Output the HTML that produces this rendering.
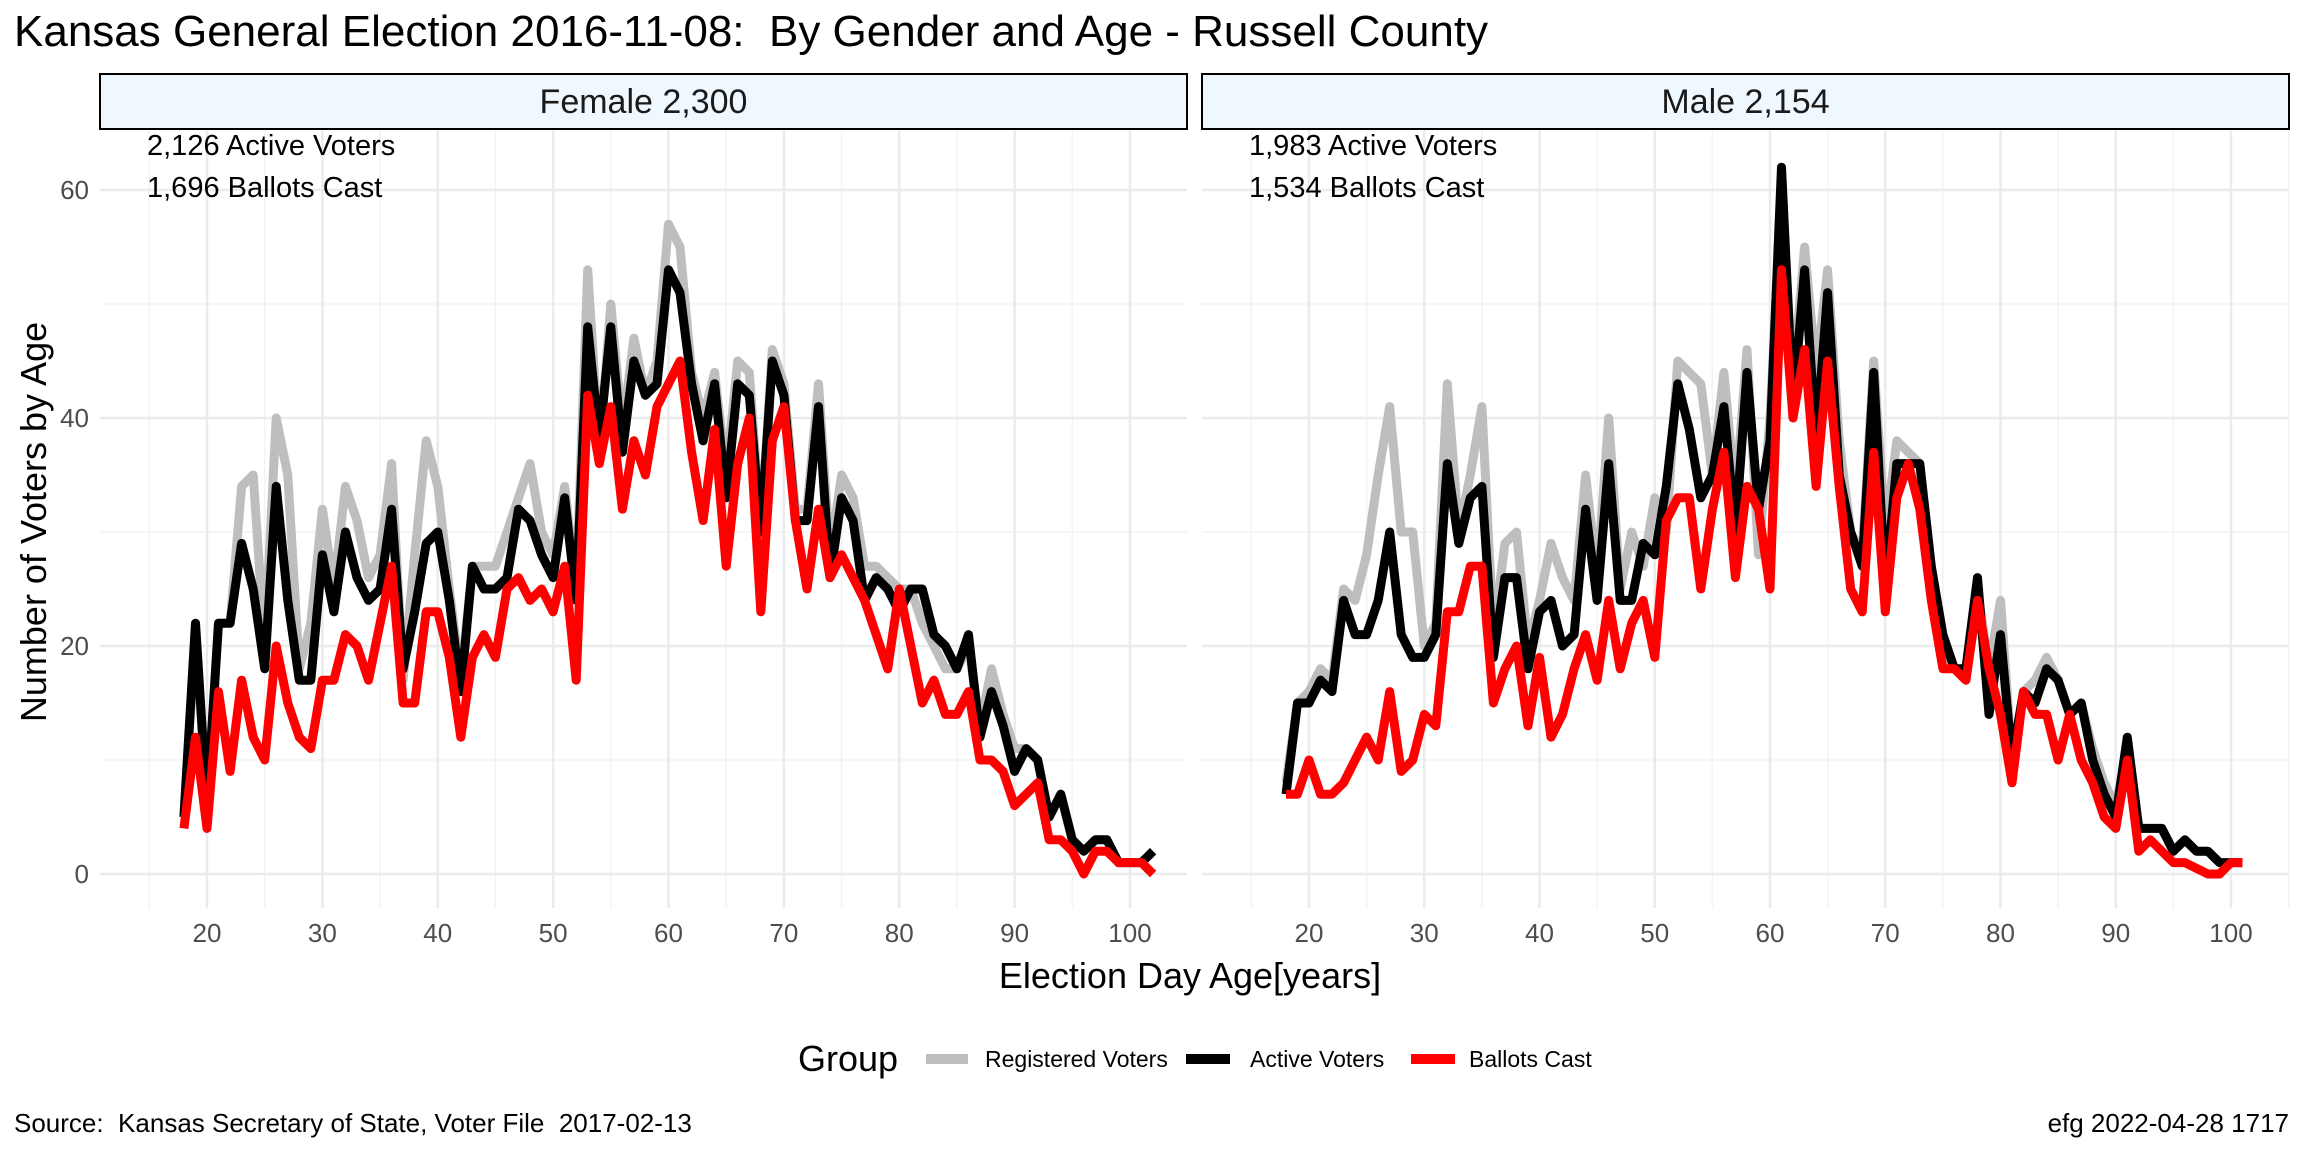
<!DOCTYPE html>
<html><head><meta charset="utf-8">
<style>
html,body{margin:0;padding:0;background:#fff;}
svg{display:block;font-family:"Liberation Sans",Arial,sans-serif;}
text{white-space:pre;}
</style></head>
<body>
<svg id="chart" width="2304" height="1152" viewBox="0 0 2304 1152" xmlns="http://www.w3.org/2000/svg" xml:space="preserve">
<text x="14" y="46" font-size="44" fill="#000">Kansas General Election 2016-11-08:  By Gender and Age - Russell County</text>
<g id="panels"></g>
<text x="1190" y="988" font-size="36" text-anchor="middle" fill="#000">Election Day Age[years]</text>
<text transform="translate(46,522) rotate(-90)" font-size="36" text-anchor="middle" fill="#000">Number of Voters by Age</text>
<g>
<text x="798" y="1071" font-size="36" fill="#000">Group</text>
<line x1="926" y1="1059" x2="968" y2="1059" stroke="#bebebe" stroke-width="10"/>
<text x="985" y="1067" font-size="23" fill="#000">Registered Voters</text>
<line x1="1186" y1="1059" x2="1230" y2="1059" stroke="#000" stroke-width="10"/>
<text x="1250" y="1067" font-size="23" fill="#000">Active Voters</text>
<line x1="1411" y1="1059" x2="1455" y2="1059" stroke="#ff0000" stroke-width="10"/>
<text x="1469" y="1067" font-size="23" fill="#000">Ballots Cast</text>
</g>
<text x="14" y="1132" font-size="26" fill="#000">Source:  Kansas Secretary of State, Voter File  2017-02-13</text>
<text x="2289" y="1132" font-size="26" text-anchor="end" fill="#000">efg 2022-04-28 1717</text>
</svg>
<script>
const femaleAges = [18,19,20,21,22,23,24,25,26,27,28,29,30,31,32,33,34,35,36,37,38,39,40,41,42,43,44,45,46,47,48,49,50,51,52,53,54,55,56,57,58,59,60,61,62,63,64,65,66,67,68,69,70,71,72,73,74,75,76,77,78,79,80,81,82,83,84,85,86,87,88,89,90,91,92,93,94,95,96,97,98,99,100,101,102];
const femaleRegistered = [5,21,6,22,22,34,35,20,40,35,18,22,32,25,34,31,26,28,36,17,28,38,34,25,17,27,27,27,30,33,36,30,28,34,25,53,37,50,39,47,42,45,57,55,44,40,44,35,45,44,30,46,43,32,32,43,28,35,33,27,27,26,25,25,22,20,18,18,20,13,18,14,11,11,10,5,7,3,2,3,3,1,1,1,2];
const femaleActive = [5,22,6,22,22,29,25,18,34,24,17,17,28,23,30,26,24,25,32,18,23,29,30,24,16,27,25,25,26,32,31,28,26,33,24,48,38,48,37,45,42,43,53,51,43,38,43,33,43,42,30,45,42,31,31,41,26,33,31,24,26,25,23,25,25,21,20,18,21,12,16,13,9,11,10,5,7,3,2,3,3,1,1,1,2];
const femaleBallots = [4,12,4,16,9,17,12,10,20,15,12,11,17,17,21,20,17,22,27,15,15,23,23,19,12,19,21,19,25,26,24,25,23,27,17,42,36,41,32,38,35,41,43,45,37,31,39,27,36,40,23,38,41,31,25,32,26,28,26,24,21,18,25,20,15,17,14,14,16,10,10,9,6,7,8,3,3,2,0,2,2,1,1,1,0];
const maleAges = [18,19,20,21,22,23,24,25,26,27,28,29,30,31,32,33,34,35,36,37,38,39,40,41,42,43,44,45,46,47,48,49,50,51,52,53,54,55,56,57,58,59,60,61,62,63,64,65,66,67,68,69,70,71,72,73,74,75,76,77,78,79,80,81,82,83,84,85,86,87,88,89,90,91,92,93,94,95,96,97,98,99,100,101];
const maleRegistered = [8,15,16,18,17,25,24,28,35,41,30,30,20,22,43,30,35,41,21,29,30,20,24,29,26,24,35,26,40,25,30,27,33,30,45,44,43,35,44,33,46,28,40,60,43,55,44,53,38,30,28,45,30,38,37,36,26,20,18,17,25,18,24,10,16,17,19,17,14,15,11,8,6,11,4,4,4,2,3,2,2,1,1,1];
const maleActive = [7,15,15,17,16,24,21,21,24,30,21,19,19,21,36,29,33,34,19,26,26,18,23,24,20,21,32,24,36,24,24,29,28,34,43,39,33,35,41,30,44,32,38,62,41,53,38,51,35,30,27,44,25,36,36,36,27,21,18,18,26,14,21,10,16,15,18,17,14,15,10,7,5,12,4,4,4,2,3,2,2,1,1,1];
const maleBallots = [7,7,10,7,7,8,10,12,10,16,9,10,14,13,23,23,27,27,15,18,20,13,19,12,14,18,21,17,24,18,22,24,19,31,33,33,25,32,37,26,34,32,25,53,40,46,34,45,34,25,23,37,23,33,36,32,24,18,18,17,24,18,14,8,16,14,14,10,14,10,8,5,4,10,2,3,2,1,1,0.5,0,0,1,1];
const yTicks = [0,20,40,60];
const xTicks = [20,30,40,50,60,70,80,90,100];
const panelTitles = ["Female 2,300","Male 2,154"];
const activeNotes = ["2,126 Active Voters","1,983 Active Voters"];
const ballotNotes = ["1,696 Ballots Cast","1,534 Ballots Cast"];

const NS = "http://www.w3.org/2000/svg";
const root = document.getElementById("panels");
function mk(tag, attrs, parent){ const e=document.createElementNS(NS,tag); for(const k in attrs) e.setAttribute(k,attrs[k]); parent.appendChild(e); return e; }
const yScale = v => 874 - v*(874-190)/60;
const panelLeft = [100,1202];
const panelW = 1087;
function xScaleFor(p){ const a = p===0?207:1309; const b = p===0?1130:2231; return v => a + (v-20)*(b-a)/80; }
const series = [
  [femaleAges,[femaleRegistered,femaleActive,femaleBallots]],
  [maleAges,[maleRegistered,maleActive,maleBallots]]
];
const colors = ["#bebebe","#000000","#ff0000"];
const seriesNames = ["registered","active","ballots"];
for(let p=0;p<2;p++){
  const xs = xScaleFor(p);
  const L = panelLeft[p], R = L+panelW, T=129, B=908;
  const g = mk("g",{},root);
  
  
  for(let v=10; v<=60; v+=20){
    const l=mk("line",{x1:L,x2:R,y1:yScale(v),y2:yScale(v),stroke:"#f3f3f3","stroke-width":1.5},g);
    
    
  }
  for(let v=15; v<=105; v+=10){
    const x=xs(v); if(x<L||x>R) continue;
    const l=mk("line",{x1:x,x2:x,y1:T,y2:B,stroke:"#f3f3f3","stroke-width":1.5},g);
    
    
  }
  yTicks.forEach(v=>{
    const l=mk("line",{x1:L,x2:R,y1:yScale(v),y2:yScale(v),stroke:"#ebebeb","stroke-width":2.5},g);
    
    
    if(p===0){
      const t=mk("text",{x:89,y:yScale(v)+9,"font-size":26,"text-anchor":"end",fill:"#4d4d4d"},g);
      t.textContent=v;
      
      
    }
  });
  xTicks.forEach(v=>{
    const l=mk("line",{x1:xs(v),x2:xs(v),y1:T,y2:B,stroke:"#ebebeb","stroke-width":2.5},g);
    
    
    const t=mk("text",{x:xs(v),y:942,"font-size":26,"text-anchor":"middle",fill:"#4d4d4d"},g);
    t.textContent=v;
    
    
  });
  const strip=mk("rect",{x:L,y:74,width:panelW,height:55,fill:"#f0f8ff",stroke:"#000","stroke-width":2},g);
  
  
  const st=mk("text",{x:L+panelW/2,y:113,"font-size":34,"text-anchor":"middle",fill:"#1a1a1a"},g);
  st.textContent=panelTitles[p];
  
  
  const [ages, vals] = series[p];
  vals.forEach((arr,i)=>{
    const d = arr.map((v,j)=>(j?"L":"M")+xs(ages[j]).toFixed(1)+","+yScale(v).toFixed(1)).join(" ");
    const path=mk("path",{d:d,fill:"none",stroke:colors[i],"stroke-width":9,"stroke-linejoin":"round"},g);
    
    
  });
  const n1=mk("text",{x:L+47,y:155,"font-size":29,fill:"#000"},g);
  n1.textContent=activeNotes[p];
  
  
  const n2=mk("text",{x:L+47,y:197,"font-size":29,fill:"#000"},g);
  n2.textContent=ballotNotes[p];
  
  
}
</script>
</body></html>
